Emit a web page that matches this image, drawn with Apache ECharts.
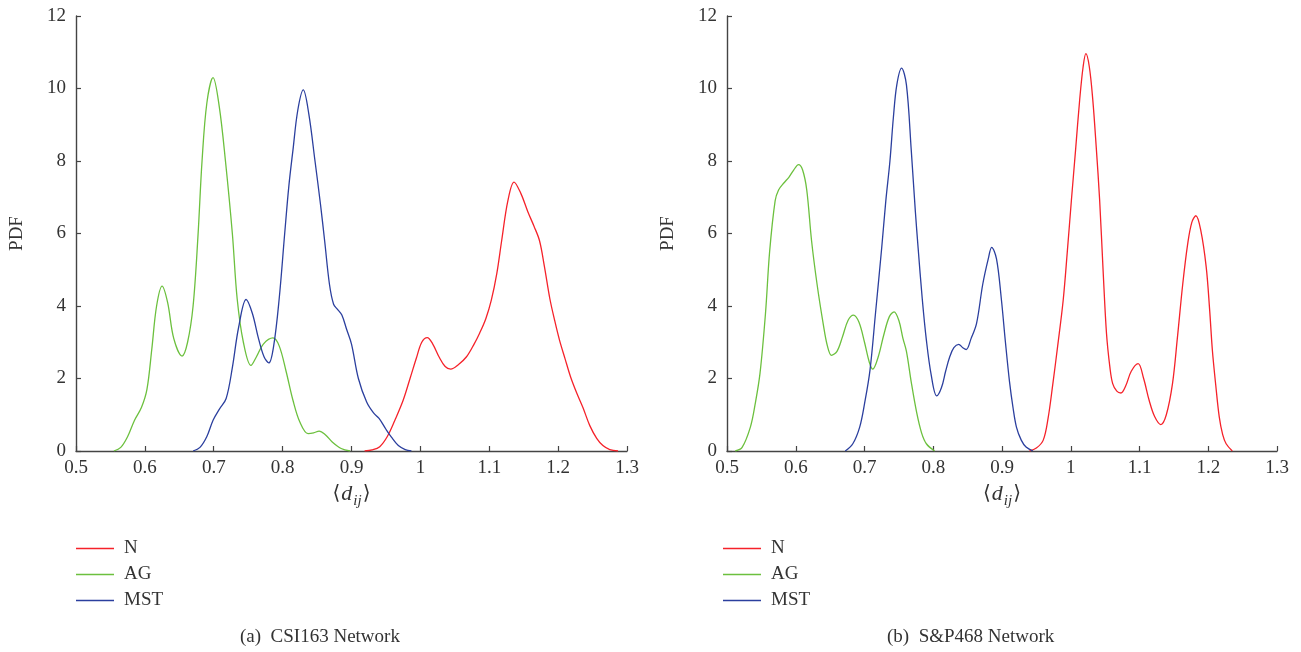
<!DOCTYPE html>
<html>
<head>
<meta charset="utf-8">
<script src="https://cdn.jsdelivr.net/npm/echarts@6/dist/echarts.min.js"></script>
<style>
html,body{margin:0;padding:0;background:#fff;}
#chart{width:1301px;height:652px;}
</style>
</head>
<body>
<div id="chart"></div>
<script>
// ---------- data ----------
var seriesNames = ['N', 'AG', 'MST'];
var xTicks = [0.5, 0.6, 0.7, 0.8, 0.9, 1.0, 1.1, 1.2, 1.3];
var yTicks = [0, 2, 4, 6, 8, 10, 12];
var captions = ['(a)  CSI163 Network', '(b)  S&P468 Network'];

// (a) CSI163 Network
var csiN = [[0.919,0],[0.930,0.03],[0.941,0.12],[0.952,0.4],[0.963,0.85],[0.975,1.4],[0.985,2.0],[0.994,2.55],[1.002,3.0],[1.010,3.13],[1.018,2.95],[1.027,2.6],[1.036,2.33],[1.044,2.26],[1.055,2.38],[1.067,2.6],[1.078,2.95],[1.086,3.25],[1.095,3.65],[1.103,4.16],[1.111,4.9],[1.118,5.8],[1.127,6.9],[1.136,7.42],[1.146,7.1],[1.156,6.6],[1.165,6.2],[1.173,5.8],[1.180,5.1],[1.188,4.2],[1.195,3.6],[1.202,3.06],[1.210,2.55],[1.218,2.05],[1.227,1.6],[1.236,1.2],[1.246,0.7],[1.256,0.35],[1.265,0.15],[1.275,0.04],[1.287,0]];
var csiAG = [[0.555,0],[0.565,0.1],[0.575,0.4],[0.585,0.85],[0.595,1.2],[0.603,1.7],[0.610,2.8],[0.617,4.0],[0.625,4.55],[0.633,4.1],[0.642,3.1],[0.654,2.62],[0.662,3.0],[0.670,4.0],[0.677,5.9],[0.683,8.0],[0.690,9.6],[0.699,10.3],[0.708,9.5],[0.717,8.0],[0.727,6.0],[0.734,4.2],[0.743,3.0],[0.754,2.36],[0.762,2.6],[0.772,2.95],[0.786,3.12],[0.795,2.9],[0.805,2.2],[0.815,1.4],[0.825,0.8],[0.837,0.48],[0.845,0.5],[0.853,0.55],[0.862,0.45],[0.872,0.25],[0.885,0.07],[0.898,0]];
var csiMST = [[0.670,0],[0.680,0.1],[0.690,0.4],[0.699,0.85],[0.708,1.15],[0.718,1.45],[0.727,2.3],[0.736,3.4],[0.747,4.18],[0.756,3.8],[0.765,3.1],[0.773,2.6],[0.780,2.43],[0.787,2.9],[0.795,4.2],[0.803,6.0],[0.809,7.3],[0.815,8.3],[0.822,9.4],[0.830,9.96],[0.838,9.3],[0.847,8.0],[0.855,6.8],[0.861,5.8],[0.868,4.6],[0.874,4.05],[0.880,3.9],[0.886,3.75],[0.893,3.35],[0.900,2.95],[0.910,2.0],[0.922,1.35],[0.932,1.05],[0.940,0.9],[0.950,0.6],[0.958,0.38],[0.968,0.15],[0.978,0.04],[0.987,0]];

// (b) S&P468 Network
var spN = [[0.940,0],[0.950,0.08],[0.960,0.3],[0.967,0.9],[0.974,1.86],[0.981,2.9],[0.989,4.16],[0.995,5.5],[1.001,6.93],[1.007,8.3],[1.013,9.69],[1.018,10.6],[1.022,10.96],[1.027,10.6],[1.032,9.7],[1.037,8.4],[1.042,6.93],[1.047,5.0],[1.052,3.24],[1.057,2.3],[1.061,1.86],[1.067,1.65],[1.073,1.6],[1.080,1.8],[1.088,2.2],[1.098,2.41],[1.106,2.0],[1.114,1.4],[1.122,0.95],[1.131,0.73],[1.139,1.0],[1.148,1.86],[1.155,3.1],[1.163,4.62],[1.170,5.7],[1.176,6.3],[1.182,6.49],[1.189,6.1],[1.197,5.08],[1.202,3.9],[1.206,2.78],[1.211,1.8],[1.216,0.94],[1.221,0.45],[1.226,0.2],[1.235,0]];
var spAG = [[0.512,0],[0.522,0.1],[0.534,0.66],[0.541,1.3],[0.548,2.14],[0.556,3.8],[0.562,5.5],[0.570,6.9],[0.575,7.2],[0.583,7.4],[0.590,7.55],[0.597,7.75],[0.604,7.9],[0.610,7.75],[0.616,7.2],[0.623,5.8],[0.631,4.6],[0.640,3.5],[0.646,2.9],[0.652,2.64],[0.660,2.75],[0.668,3.15],[0.676,3.6],[0.684,3.75],[0.692,3.55],[0.700,3.0],[0.707,2.45],[0.712,2.26],[0.720,2.6],[0.728,3.2],[0.736,3.7],[0.743,3.84],[0.750,3.6],[0.756,3.1],[0.761,2.75],[0.768,1.9],[0.776,1.05],[0.783,0.5],[0.790,0.2],[0.802,0]];
var spMST = [[0.672,0],[0.683,0.2],[0.693,0.66],[0.700,1.3],[0.708,2.23],[0.716,3.8],[0.725,5.6],[0.731,6.9],[0.737,8.0],[0.742,9.2],[0.747,10.1],[0.754,10.56],[0.761,10.1],[0.768,8.3],[0.774,6.6],[0.778,5.6],[0.784,4.2],[0.790,3.06],[0.797,2.1],[0.805,1.52],[0.812,1.75],[0.818,2.2],[0.824,2.6],[0.830,2.85],[0.837,2.94],[0.843,2.85],[0.848,2.80],[0.855,3.1],[0.863,3.52],[0.872,4.6],[0.880,5.3],[0.885,5.62],[0.892,5.3],[0.899,4.2],[0.905,3.0],[0.911,1.9],[0.916,1.2],[0.921,0.66],[0.928,0.3],[0.935,0.11],[0.945,0]];

// ---------- styling ----------
var colors = {N: '#f5222a', AG: '#6cc03e', MST: '#2b3f9e'};
var FONT = "'Liberation Serif', 'DejaVu Serif', serif";
var TXT = '#333333';

function xAxis(gi) {
  return {
    type: 'value', gridIndex: gi,
    min: xTicks[0], max: xTicks[xTicks.length - 1], interval: 0.1,
    name: '{a|\u27E8}{d|d}{s|ij}{a|\u27E9}',
    nameLocation: 'middle', nameGap: 21,
    nameTextStyle: {
      fontFamily: FONT, color: TXT,
      rich: {
        a: {fontFamily: FONT, fontSize: 20, color: TXT, verticalAlign: 'top', padding: [2, 0, 0, 0]},
        d: {fontFamily: FONT, fontSize: 22, fontStyle: 'italic', color: TXT, verticalAlign: 'top', padding: [1, 0, 0, 1]},
        s: {fontFamily: FONT, fontSize: 15, fontStyle: 'italic', color: TXT, verticalAlign: 'top', padding: [12, 1, 0, 1]}
      }
    },
    axisLine: {show: true, onZero: false, lineStyle: {color: '#444', width: 1.4}},
    axisTick: {show: true, inside: true, length: 5, lineStyle: {color: '#444', width: 1.2}},
    axisLabel: {fontFamily: FONT, fontSize: 19, color: TXT, margin: 8,
      formatter: function (v) { return String(Math.round(v * 10) / 10); }},
    splitLine: {show: false}
  };
}
function yAxis(gi) {
  return {
    type: 'value', gridIndex: gi,
    min: yTicks[0], max: yTicks[yTicks.length - 1], interval: 2,
    name: 'PDF', nameLocation: 'middle', nameGap: 49, nameRotate: 90,
    nameTextStyle: {fontFamily: FONT, fontSize: 19, color: TXT},
    axisLine: {show: true, onZero: false, lineStyle: {color: '#444', width: 1.4}},
    axisTick: {show: true, inside: true, length: 5, lineStyle: {color: '#444', width: 1.2}},
    axisLabel: {fontFamily: FONT, fontSize: 19, color: TXT, margin: 10},
    splitLine: {show: false}
  };
}
function line(name, data, gi) {
  return {
    type: 'line', name: name, data: data,
    xAxisIndex: gi, yAxisIndex: gi,
    smooth: 0.35, symbol: 'none', silent: true,
    lineStyle: {color: colors[name], width: 1.3},
    itemStyle: {color: colors[name]},
    animation: false
  };
}
function legend(left) {
  return {
    orient: 'vertical', left: left, top: 539, padding: 0,
    data: seriesNames.map(function (n) { return {name: n, icon: 'rect', itemStyle: {color: colors[n]}}; }),
    itemWidth: 38, itemHeight: 1.6, itemGap: 7,
    selectedMode: false,
    textStyle: {fontFamily: FONT, fontSize: 19, color: TXT, padding: [0, 0, 0, 5]}
  };
}

var option = {
  backgroundColor: '#ffffff',
  animation: false,
  grid: [
    {left: 76, top: 16, width: 551, height: 435, containLabel: false},
    {left: 727, top: 16, width: 550, height: 435, containLabel: false}
  ],
  xAxis: [xAxis(0), xAxis(1)],
  yAxis: [yAxis(0), yAxis(1)],
  legend: [legend(76), legend(723)],
  title: [
    {text: captions[0], left: 240, top: 628, padding: 0, textStyle: {fontFamily: FONT, fontSize: 19, fontWeight: 'normal', color: TXT}},
    {text: captions[1], left: 887, top: 628, padding: 0, textStyle: {fontFamily: FONT, fontSize: 19, fontWeight: 'normal', color: TXT}}
  ],
  series: [
    line('N', csiN, 0), line('AG', csiAG, 0), line('MST', csiMST, 0),
    line('N', spN, 1), line('AG', spAG, 1), line('MST', spMST, 1)
  ]
};

var chart = echarts.init(document.getElementById('chart'), null, {renderer: 'canvas'});
chart.setOption(option);
</script>
</body>
</html>
